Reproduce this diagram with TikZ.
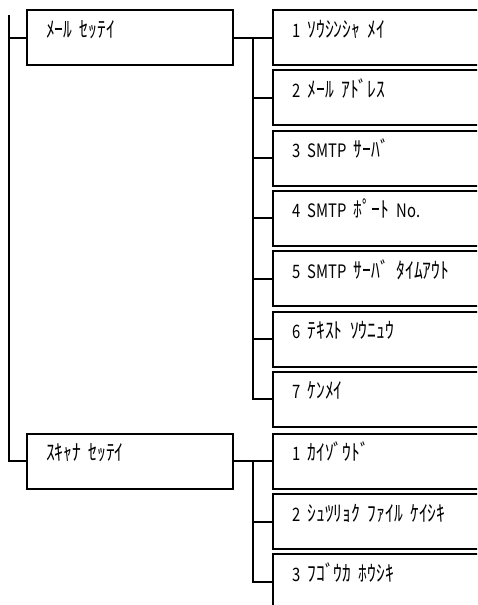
\documentclass[tikz,border=0pt]{standalone}
\usepackage{fontspec}
\newfontfamily\jpfont[WordSpace=1.8, FakeStretch=0.8]{Noto Sans CJK JP}
\newcommand{\ascii}[1]{{\fontsize{18.5}{22}\selectfont #1}}
\usepackage{tikz}
\usetikzlibrary{positioning, calc}

\begin{document}
\begin{tikzpicture}[x=1pt, y=-1pt, node distance=3.3pt,
    menu/.style={draw, rectangle, line width=2pt, font=\jpfont\fontsize{22}{26}\selectfont, align=left, inner xsep=19pt, inner ysep=4pt, text height=23pt, text depth=24pt, text width=168pt},
    item/.style={menu, text width=200pt},
    link/.style={line width=2pt}]
    \useasboundingbox (0,0) rectangle (477,605);
    \clip (0,0) rectangle (477,605);

    \node[menu, anchor=north west] (mail) at (26,9) {ﾒｰﾙ ｾｯﾃｲ};
    \node[item, right=38pt of mail] (m1) {\ascii{1} ｿｳｼﾝｼｬ ﾒｲ};
    \node[item, below=of m1] (m2) {\ascii{2} ﾒｰﾙ ｱﾄﾞﾚｽ};
    \node[item, below=of m2] (m3) {\ascii{3} \ascii{SMTP} ｻｰﾊﾞ};
    \node[item, below=of m3] (m4) {\ascii{4} \ascii{SMTP} ﾎﾟｰﾄ \ascii{No.}};
    \node[item, below=of m4] (m5) {\ascii{5} \ascii{SMTP} ｻｰﾊﾞ ﾀｲﾑｱｳﾄ};
    \node[item, below=of m5] (m6) {\ascii{6} ﾃｷｽﾄ ｿｳﾆｭｳ};
    \node[item, below=of m6] (m7) {\ascii{7} ｹﾝﾒｲ};
    \node[item, below=5pt of m7] (s1) {\ascii{1} ｶｲｿﾞｳﾄﾞ};
    \node[item, below=of s1] (s2) {\ascii{2} ｼｭﾂﾘｮｸ ﾌｧｲﾙ ｹｲｼｷ};
    \node[item, below=of s2] (s3) {\ascii{3} ﾌｺﾞｳｶ ﾎｳｼｷ};
    \node[menu] (scan) at (mail |- s1) {ｽｷｬﾅ ｾｯﾃｲ};

    % left trunk
    \coordinate (root) at (9,15);
    \draw[link] (root) |- (scan.west);
    \draw[link] (root |- mail.west) -- (mail.west);

    % mail branch
    \coordinate (mfork) at ($(mail.east)!0.5!(m1.west)$);
    \draw[link] (mail.east) -- (m1.west);
    \draw[link] (mfork) |- (m7.west);
    \foreach \x in {m2,m3,m4,m5,m6}
        \draw[link] (mfork |- \x.west) -- (\x.west);

    % scanner branch
    \coordinate (sfork) at ($(scan.east)!0.5!(s1.west)$);
    \draw[link] (scan.east) -- (s1.west);
    \draw[link] (sfork) |- (s3.west);
    \draw[link] (sfork |- s2.west) -- (s2.west);
\end{tikzpicture}
\end{document}
